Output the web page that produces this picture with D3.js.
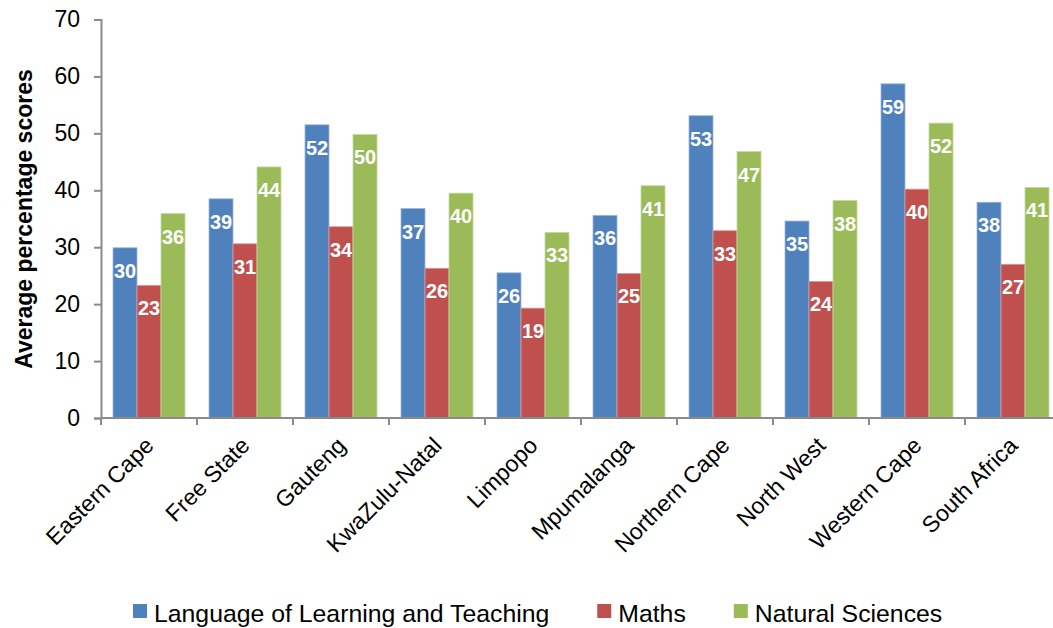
<!DOCTYPE html>
<html>
<head>
<meta charset="utf-8">
<script src="https://cdn.jsdelivr.net/npm/d3@7"></script>
<style>
  html, body { margin: 0; padding: 0; background: #fff; }
  svg { display: block; font-family: "Liberation Sans", Arial, sans-serif; }
</style>
</head>
<body>
<svg id="chart" width="1053" height="628"></svg>
<script>
const categories = ["Eastern Cape", "Free State", "Gauteng", "KwaZulu-Natal", "Limpopo", "Mpumalanga", "Northern Cape", "North West", "Western Cape", "South Africa"];
const seriesNames = ["Language of Learning and Teaching", "Maths", "Natural Sciences"];
const languageScores = [29.9, 38.5, 51.5, 36.8, 25.5, 35.6, 53.1, 34.6, 58.7, 37.9];
const mathsScores    = [23.3, 30.6, 33.6, 26.3, 19.3, 25.4, 32.9, 24.0, 40.2, 27.0];
const scienceScores  = [35.9, 44.1, 49.8, 39.5, 32.6, 40.8, 46.8, 38.2, 51.8, 40.5];
const yTicks = [0, 10, 20, 30, 40, 50, 60, 70];
const colors = ["#4F81BD", "#C0504D", "#9BBB59"];
const strokes = ["#9db6d8", "#dc9a98", "#c6d9a0"];

const seriesValues = [languageScores, mathsScores, scienceScores];
const svg = d3.select("#chart");

const x = d3.scaleBand().domain(categories).range([101, 1061]).paddingInner(0).paddingOuter(0);
const xs = d3.scaleBand().domain(seriesNames).range([12, 84]);
const y = d3.scaleLinear().domain([0, 70]).range([418, 19.5]);

// bars
const groups = svg.append("g").selectAll("g")
  .data(categories)
  .join("g")
  .attr("transform", d => `translate(${x(d)},0)`);

groups.each(function(cat, ci) {
  const g = d3.select(this);
  seriesNames.forEach((s, si) => {
    const v = seriesValues[si][ci];
    g.append("rect")
      .attr("x", xs(s))
      .attr("y", y(v))
      .attr("width", xs.bandwidth())
      .attr("height", y(0) - y(v))
      .attr("fill", colors[si])
      .attr("stroke", strokes[si])
      .attr("stroke-width", 0.8);
    g.append("text")
      .attr("x", xs(s) + xs.bandwidth() / 2)
      .attr("y", y(v) + 30)
      .attr("text-anchor", "middle")
      .attr("fill", "#fff")
      .attr("font-weight", "bold")
      .attr("font-size", "20px")
      .text(d3.format(".0f")(Math.round(v)));
  });
});

// y axis
const yAxis = svg.append("g")
  .attr("transform", "translate(101,0)")
  .call(d3.axisLeft(y).tickValues(yTicks).tickSize(7).tickPadding(14).tickFormat(d3.format("d")));
yAxis.select(".domain").attr("stroke", "#8a8a8a").attr("stroke-width", 2);
yAxis.selectAll(".tick line").attr("stroke", "#8a8a8a").attr("stroke-width", 2);
yAxis.selectAll(".tick text").attr("font-size", "23px").attr("fill", "#000")
  .attr("font-family", "Liberation Sans, Arial, sans-serif");

// x axis
const boundaries = categories.map(c => x(c)).concat([x(categories[categories.length - 1]) + x.bandwidth()]);
const xg = svg.append("g");
xg.append("line").attr("x1", 101).attr("x2", 1061).attr("y1", y(0)).attr("y2", y(0))
  .attr("stroke", "#8a8a8a").attr("stroke-width", 2);
xg.selectAll("line.tk").data(boundaries).join("line").attr("class", "tk")
  .attr("x1", d => d).attr("x2", d => d).attr("y1", y(0)).attr("y2", y(0) + 7)
  .attr("stroke", "#8a8a8a").attr("stroke-width", 2);
xg.selectAll("text").data(categories).join("text")
  .attr("transform", d => `translate(${x(d) + x.bandwidth() / 2 + 6},447) rotate(-45)`)
  .attr("text-anchor", "end")
  .attr("font-size", "23px")
  .attr("fill", "#000")
  .text(d => d);

// y title
svg.append("text")
  .attr("transform", "translate(32,219) rotate(-90)")
  .attr("text-anchor", "middle")
  .attr("font-weight", "bold")
  .attr("font-size", "23px")
  .attr("fill", "#000")
  .text("Average percentage scores");

// legend
const legend = svg.append("g");
let lx = 133;
seriesNames.forEach((s, i) => {
  legend.append("rect").attr("x", lx).attr("y", 604).attr("width", 14).attr("height", 14).attr("fill", colors[i]);
  const t = legend.append("text").attr("x", lx + 21).attr("y", 621.5)
    .attr("font-size", "24.8px").attr("fill", "#000").text(s);
  lx += 21 + t.node().getComputedTextLength() + 48;
});
</script>
</body>
</html>
